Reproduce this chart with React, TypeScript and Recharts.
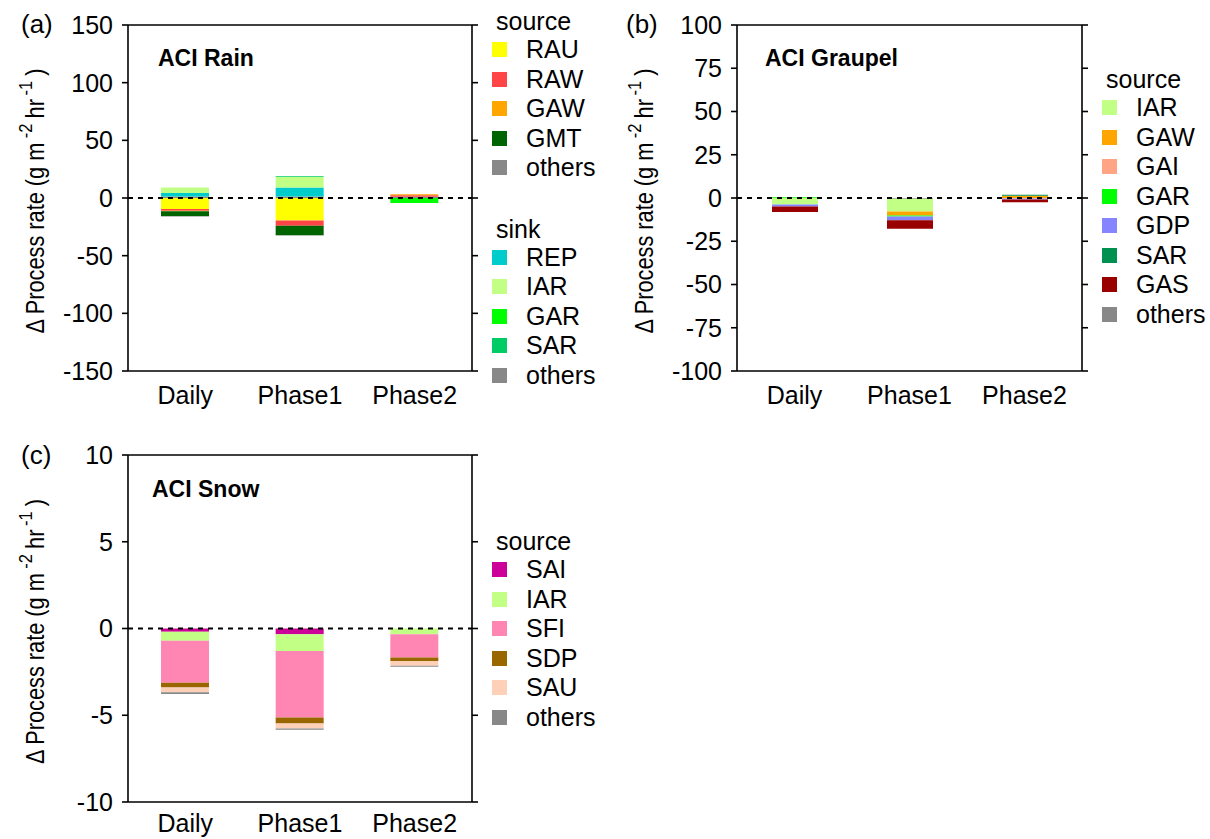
import React from 'react';
import { BarChart, Bar, XAxis, YAxis, ReferenceLine, Legend } from 'recharts';

const FONT = '"Liberation Sans", Arial, Helvetica, sans-serif';

const categories = ['Daily', 'Phase1', 'Phase2'];

// (a) ACI Rain — sources and sinks per period
const rainOthersSink = [1.4, 1.4, 1.0];
const rainRAU = [-9.6, -19.5, 0];
const rainRAW = [-1.5, -4.6, 1.3];
const rainGAW = [-0.3, 0, 0.9];
const rainGMT = [-4.3, -8.1, 0];
const rainREP = [3.0, 7.8, 0];
const rainIAR = [4.6, 9.0, 0];
const rainGAR = [0, 0, -4.4];
const rainSAR = [0, 0.6, 0];
const rainOthersSrc = [-0.3, -0.3, 0];
const rainTicks = [-150, -100, -50, 0, 50, 100, 150];

// (b) ACI Graupel
const graupelOthers = [0, -0.5, 0];
const graupelIAR = [-3.7, -7.3, 0];
const graupelGAW = [0, -2.3, 1.3];
const graupelGAI = [0, 0, -0.3];
const graupelGAR = [0.4, -0.6, 0];
const graupelGDP = [-1.2, -2.1, -0.6];
const graupelSAR = [0, 0, 0.6];
const graupelGAS = [-3.2, -5.0, -1.6];
const graupelTicks = [-100, -75, -50, -25, 0, 25, 50, 75, 100];

// (c) ACI Snow
const snowSAI = [-0.19, -0.33, 0];
const snowIAR = [-0.52, -0.96, -0.33];
const snowSFI = [-2.42, -3.84, -1.34];
const snowSDP = [-0.27, -0.35, -0.21];
const snowSAU = [-0.27, -0.29, -0.27];
const snowOthers = [-0.1, -0.06, -0.06];
const snowTicks = [-10, -5, 0, 5, 10];

type Series = { key: string; label: string; color: string; values: number[] };
type Group = { title: string; items: Series[] };

const C = {
  RAU: '#FFFF00',
  RAW: '#FF4545',
  GAW: '#FFA500',
  GMT: '#006400',
  others: '#888888',
  REP: '#00CCCC',
  IAR: '#C2FF85',
  GAR: '#00FF00',
  SARa: '#00CC66',
  GAI: '#FFA585',
  GDP: '#8585FF',
  SARb: '#00904F',
  GAS: '#990000',
  SAI: '#CC0099',
  SFI: '#FF85B2',
  SDP: '#996600',
  SAU: '#FFD0B8',
};

const rOthersSink: Series = { key: 'othersSink', label: 'others', color: C.others, values: rainOthersSink };
const rRAU: Series = { key: 'RAU', label: 'RAU', color: C.RAU, values: rainRAU };
const rRAW: Series = { key: 'RAW', label: 'RAW', color: C.RAW, values: rainRAW };
const rGAW: Series = { key: 'GAW', label: 'GAW', color: C.GAW, values: rainGAW };
const rGMT: Series = { key: 'GMT', label: 'GMT', color: C.GMT, values: rainGMT };
const rREP: Series = { key: 'REP', label: 'REP', color: C.REP, values: rainREP };
const rIAR: Series = { key: 'IAR', label: 'IAR', color: C.IAR, values: rainIAR };
const rGAR: Series = { key: 'GAR', label: 'GAR', color: C.GAR, values: rainGAR };
const rSAR: Series = { key: 'SAR', label: 'SAR', color: C.SARa, values: rainSAR };
const rOthersSrc: Series = { key: 'othersSrc', label: 'others', color: C.others, values: rainOthersSrc };
const rainStack = [rOthersSink, rRAU, rRAW, rGAW, rGMT, rREP, rIAR, rGAR, rSAR, rOthersSrc];
const rainLegend: Group[] = [
  { title: 'source', items: [rRAU, rRAW, rGAW, rGMT, rOthersSrc] },
  { title: 'sink', items: [rREP, rIAR, rGAR, rSAR, rOthersSink] },
];

const gOthers: Series = { key: 'others', label: 'others', color: C.others, values: graupelOthers };
const gIAR: Series = { key: 'IAR', label: 'IAR', color: C.IAR, values: graupelIAR };
const gGAW: Series = { key: 'GAW', label: 'GAW', color: C.GAW, values: graupelGAW };
const gGAI: Series = { key: 'GAI', label: 'GAI', color: C.GAI, values: graupelGAI };
const gGAR: Series = { key: 'GAR', label: 'GAR', color: C.GAR, values: graupelGAR };
const gGDP: Series = { key: 'GDP', label: 'GDP', color: C.GDP, values: graupelGDP };
const gSAR: Series = { key: 'SAR', label: 'SAR', color: C.SARb, values: graupelSAR };
const gGAS: Series = { key: 'GAS', label: 'GAS', color: C.GAS, values: graupelGAS };
const graupelStack = [gOthers, gIAR, gGAW, gGAI, gGAR, gGDP, gSAR, gGAS];
const graupelLegend: Group[] = [
  { title: 'source', items: [gIAR, gGAW, gGAI, gGAR, gGDP, gSAR, gGAS, gOthers] },
];

const sSAI: Series = { key: 'SAI', label: 'SAI', color: C.SAI, values: snowSAI };
const sIAR: Series = { key: 'IAR', label: 'IAR', color: C.IAR, values: snowIAR };
const sSFI: Series = { key: 'SFI', label: 'SFI', color: C.SFI, values: snowSFI };
const sSDP: Series = { key: 'SDP', label: 'SDP', color: C.SDP, values: snowSDP };
const sSAU: Series = { key: 'SAU', label: 'SAU', color: C.SAU, values: snowSAU };
const sOthers: Series = { key: 'others', label: 'others', color: C.others, values: snowOthers };
const snowStack = [sSAI, sIAR, sSFI, sSDP, sSAU, sOthers];
const snowLegend: Group[] = [{ title: 'source', items: [sSAI, sIAR, sSFI, sSDP, sSAU, sOthers] }];

function buildRows(series: Series[]) {
  return categories.map((category, i) => {
    const row: Record<string, string | number> = { category };
    series.forEach((s) => {
      row[s.key] = s.values[i];
    });
    return row;
  });
}

function LegendBox({ groups, gap }: { groups: Group[]; gap: number }) {
  return (
    <div style={{ fontFamily: FONT, fontSize: 25, color: '#000' }}>
      {groups.map((g, gi) => (
        <div key={g.title} style={{ marginTop: gi === 0 ? 0 : gap }}>
          <div style={{ height: 27, lineHeight: '27px', paddingLeft: 4 }}>{g.title}</div>
          {g.items.map((it) => (
            <div key={it.key} style={{ display: 'flex', alignItems: 'center', height: 29.5 }}>
              <span style={{ display: 'inline-block', width: 15, height: 15, background: it.color, marginRight: 19 }} />
              <span style={{ lineHeight: '29.5px' }}>{it.label}</span>
            </div>
          ))}
        </div>
      ))}
    </div>
  );
}

// Rotated axis title, compressed slightly along its length
function YTitle(props: any) {
  const vb = props.viewBox || { x: 0, y: 0, width: 0, height: 0 };
  const x = vb.x - 24;
  const y = vb.y + vb.height / 2 + 3;
  return (
    <text
      x={0}
      y={0}
      transform={`translate(${x}, ${y}) rotate(-90) scale(0.87, 1)`}
      textAnchor="middle"
      fontFamily={FONT}
      fontSize={25}
      fill="#000"
    >
      <tspan>Δ Process rate (g m</tspan>
      <tspan fontSize={19} dx={5} dy={-12}>-2</tspan>
      <tspan dx={6} dy={12}>hr</tspan>
      <tspan fontSize={19} dx={4} dy={-12}>-1</tspan>
      <tspan dx={6} dy={12}>)</tspan>
    </text>
  );
}

const EmptyTick = () => <g />;

type PanelProps = {
  left: number;
  top: number;
  width: number;
  height: number;
  margin: { top: number; right: number; bottom: number; left: number };
  series: Series[];
  ticks: number[];
  barSize: number;
  legend: Group[];
  legendLeft: number;
  legendTop: number;
  legendGap: number;
  xTickMargin: number;
};

function Panel(p: PanelProps) {
  const data = buildRows(p.series);
  const lo = p.ticks[0];
  const hi = p.ticks[p.ticks.length - 1];
  const domain: [number, number] = [lo, hi];
  const axisLine = { stroke: '#000', strokeWidth: 1.6 };
  const yTickStyle = { fontFamily: FONT, fontSize: 25, fill: '#000' };
  const xTickStyle = { fontFamily: FONT, fontSize: 25, fill: '#000' };
  return (
    <div style={{ position: 'absolute', left: p.left, top: p.top }}>
      <BarChart
        width={p.width}
        height={p.height}
        data={data}
        margin={p.margin}
        stackOffset="sign"
        barSize={p.barSize}
      >
        <XAxis
          dataKey="category"
          axisLine={axisLine}
          tickLine={false}
          tickSize={6}
          tickMargin={p.xTickMargin}
          height={30}
          tick={xTickStyle}
          interval={0}
        />
        <YAxis
          yAxisId="left"
          domain={domain}
          ticks={p.ticks}
          interval={0}
          width={60}
          axisLine={axisLine}
          tickLine={{ stroke: '#000', strokeWidth: 1.6 }}
          tickSize={6}
          tickMargin={9}
          tick={yTickStyle}
          allowDataOverflow
          label={{ content: (lp: any) => <YTitle {...lp} /> }}
        />
        <YAxis
          yAxisId="right"
          orientation="right"
          domain={domain}
          ticks={p.ticks}
          interval={0}
          width={10}
          axisLine={axisLine}
          tickLine={{ stroke: '#000', strokeWidth: 1.6 }}
          tickSize={6}
          tick={EmptyTick}
          allowDataOverflow
        />
        {p.series.map((s) => (
          <Bar
            key={s.key}
            dataKey={s.key}
            name={s.label}
            stackId="s"
            yAxisId="left"
            fill={s.color}
            isAnimationActive={false}
          />
        ))}
        <ReferenceLine y={0} yAxisId="left" stroke="#000" strokeWidth={2} strokeDasharray="5 5" />
        <ReferenceLine y={hi} yAxisId="left" stroke="#000" strokeWidth={1.6} />
        <Legend
          layout="vertical"
          align="center"
          verticalAlign="middle"
          wrapperStyle={{ left: p.legendLeft, top: p.legendTop, width: 140, bottom: 'auto', right: 'auto' }}
          content={() => <LegendBox groups={p.legend} gap={p.legendGap} />}
        />
      </BarChart>
    </div>
  );
}

const textStyle: React.CSSProperties = {
  position: 'absolute',
  fontFamily: FONT,
  fontSize: 26,
  lineHeight: '26px',
  color: '#000',
  whiteSpace: 'nowrap',
};
const titleStyle: React.CSSProperties = { ...textStyle, fontWeight: 'bold', fontSize: 23 };

export default function App() {
  return (
    <div style={{ position: 'absolute', left: 0, top: 0, width: 1210, height: 839, background: '#fff', overflow: 'hidden' }}>
      <Panel
        left={0}
        top={0}
        width={620}
        height={420}
        margin={{ top: 25, right: 138, bottom: 19, left: 68 }}
        series={rainStack}
        ticks={rainTicks}
        barSize={48}
        legend={rainLegend}
        legendLeft={492}
        legendTop={8}
        legendGap={33}
        xTickMargin={9}
      />
      <Panel
        left={610}
        top={0}
        width={600}
        height={420}
        margin={{ top: 25, right: 118, bottom: 19, left: 67 }}
        series={graupelStack}
        ticks={graupelTicks}
        barSize={46}
        legend={graupelLegend}
        legendLeft={492}
        legendTop={66}
        legendGap={0}
        xTickMargin={9}
      />
      <Panel
        left={0}
        top={430}
        width={620}
        height={409}
        margin={{ top: 25, right: 138, bottom: 7, left: 68 }}
        series={snowStack}
        ticks={snowTicks}
        barSize={48}
        legend={snowLegend}
        legendLeft={492}
        legendTop={98}
        legendGap={0}
        xTickMargin={6}
      />
      <div style={{ ...textStyle, left: 21, top: 11 }}>(a)</div>
      <div style={{ ...textStyle, left: 626, top: 11 }}>(b)</div>
      <div style={{ ...textStyle, left: 21, top: 442 }}>(c)</div>
      <div style={{ ...titleStyle, left: 158, top: 45 }}>ACI Rain</div>
      <div style={{ ...titleStyle, left: 765, top: 45 }}>ACI Graupel</div>
      <div style={{ ...titleStyle, left: 152, top: 476 }}>ACI Snow</div>
    </div>
  );
}
